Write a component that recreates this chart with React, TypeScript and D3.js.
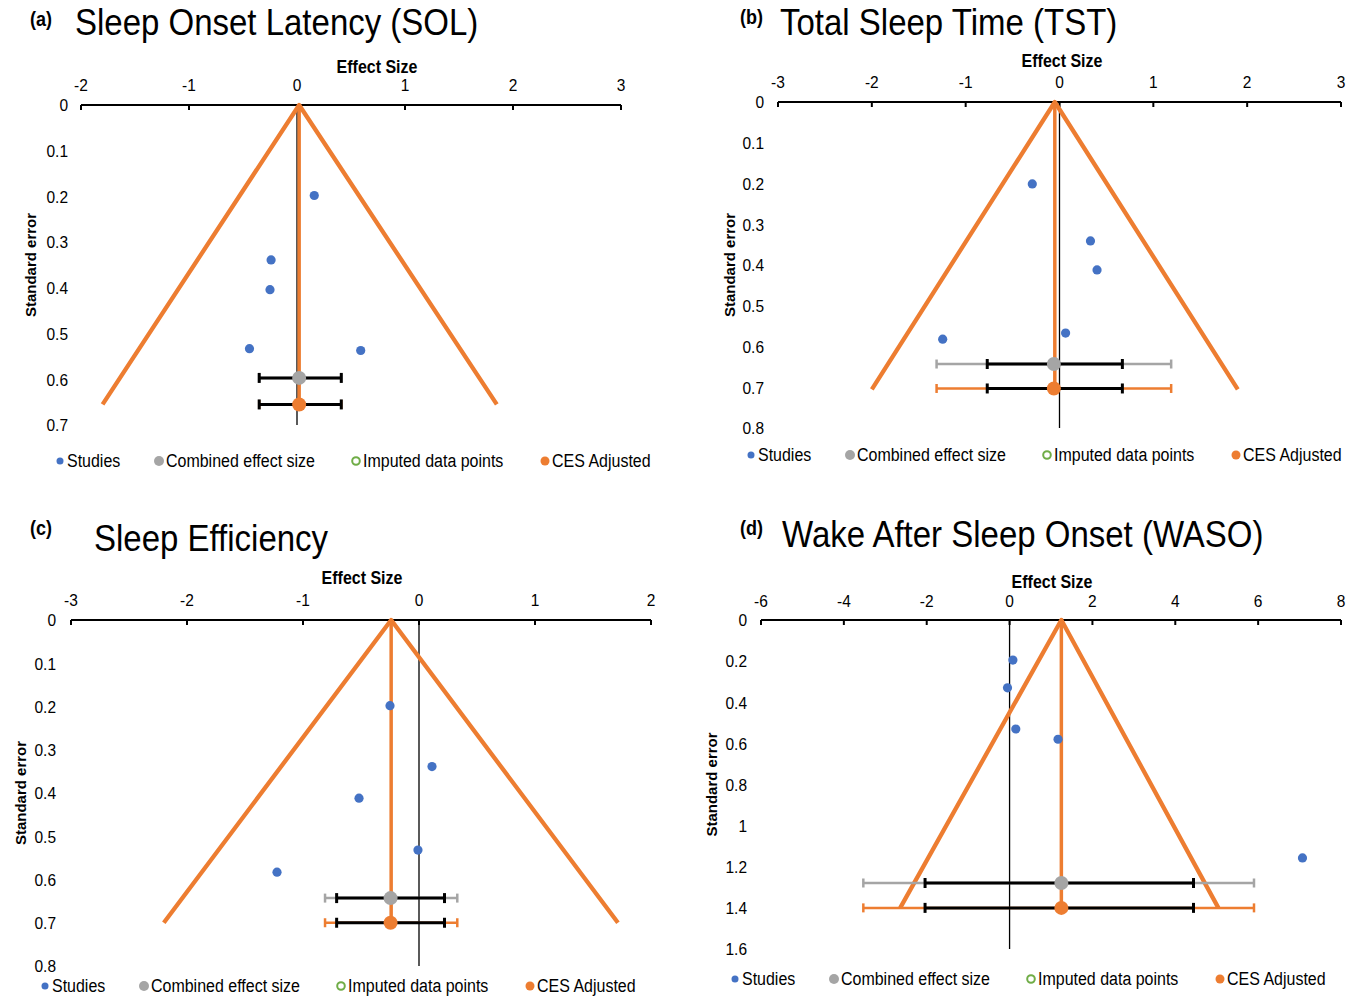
import React from 'react';
import * as d3 from 'd3';

const FONT = '"Liberation Sans", Arial, sans-serif';
const BLUE = '#4472C4';
const GREY = '#A5A5A5';
const ORANGE = '#ED7D31';
const GREEN = '#70AD47';

// legend
const legendLabels = ['Studies', 'Combined effect size', 'Imputed data points', 'CES Adjusted'];

// (a) Sleep Onset Latency
const solXTicks = [-2, -1, 0, 1, 2, 3];
const solYTicks = [0, 0.1, 0.2, 0.3, 0.4, 0.5, 0.6, 0.7];
const solStudyES = [0.16, -0.24, -0.25, -0.44, 0.59];
const solStudySE = [0.198, 0.339, 0.404, 0.533, 0.537];
const solPooledES = [0.02, 0.02]; // combined, adjusted
const solPooledSE = [0.597, 0.655];
const solCI = [-0.35, 0.41];
const solPI = [-0.35, 0.41];
const solFunnelES = [-1.8, 0.02, 1.85];
const solFunnelSE = [0.655, 0, 0.655];

// (b) Total Sleep Time
const tstXTicks = [-3, -2, -1, 0, 1, 2, 3];
const tstYTicks = [0, 0.1, 0.2, 0.3, 0.4, 0.5, 0.6, 0.7, 0.8];
const tstStudyES = [-0.29, 0.33, 0.4, 0.065, -1.245];
const tstStudySE = [0.201, 0.341, 0.412, 0.567, 0.582];
const tstPooledES = [-0.06, -0.06];
const tstPooledSE = [0.643, 0.703];
const tstCI = [-0.77, 0.67];
const tstPI = [-1.31, 1.19];
const tstFunnelES = [-2.0, -0.05, 1.9];
const tstFunnelSE = [0.705, 0, 0.705];

// (c) Sleep Efficiency
const seXTicks = [-3, -2, -1, 0, 1, 2];
const seYTicks = [0, 0.1, 0.2, 0.3, 0.4, 0.5, 0.6, 0.7, 0.8];
const seStudyES = [-0.25, 0.112, -0.517, -0.009, -1.224];
const seStudySE = [0.198, 0.339, 0.412, 0.532, 0.583];
const sePooledES = [-0.245, -0.245];
const sePooledSE = [0.643, 0.7];
const seCI = [-0.71, 0.22];
const sePI = [-0.81, 0.33];
const seFunnelES = [-2.2, -0.24, 1.715];
const seFunnelSE = [0.7, 0, 0.7];

// (d) Wake After Sleep Onset
const wasoXTicks = [-6, -4, -2, 0, 2, 4, 6, 8];
const wasoYTicks = [0, 0.2, 0.4, 0.6, 0.8, 1, 1.2, 1.4, 1.6];
const wasoStudyES = [0.08, -0.05, 0.15, 1.17, 7.07];
const wasoStudySE = [0.195, 0.33, 0.53, 0.58, 1.157];
const wasoPooledES = [1.25, 1.25];
const wasoPooledSE = [1.279, 1.4];
const wasoCI = [-2.04, 4.44];
const wasoPI = [-3.53, 5.9];
const wasoFunnelES = [-2.64, 1.25, 5.04];
const wasoFunnelSE = [1.4, 0, 1.4];

const STRETCH = 1.1;

function Txt({ x, y, size, bold, anchor, children }: any) {
  return (
    <text
      transform={`translate(${x},${y}) scale(1,${STRETCH})`}
      fontSize={size}
      fontWeight={bold ? 'bold' : 'normal'}
      textAnchor={anchor || 'start'}
      dominantBaseline="central"
      fontFamily={FONT}
      fill="#000"
    >
      {children}
    </text>
  );
}

function ErrBar({ x0, x1, y, color, width, cap }: any) {
  return (
    <g stroke={color} strokeWidth={width}>
      <line x1={x0} x2={x1} y1={y} y2={y} />
      <line x1={x0} x2={x0} y1={y - cap} y2={y + cap} />
      <line x1={x1} x2={x1} y1={y - cap} y2={y + cap} />
    </g>
  );
}

function Panel({ p }: any) {
  const x = d3.scaleLinear().domain([p.xTicks[0], p.xTicks[p.xTicks.length - 1]]).range([p.left, p.right]);
  const y = d3.scaleLinear().domain([p.yTicks[0], p.yTicks[p.yTicks.length - 1]]).range([p.top, p.bottom]);
  const funnel = d3.line<number>().x((d) => x(d)).y((d, i) => y(p.funnelSE[i]));
  const legendOffsets = [0, 99, 296, 485];

  return (
    <g>
      <Txt x={p.letterX} y={p.letterY} size={18} bold>{p.letter}</Txt>
      <Txt x={p.titleX} y={p.titleY} size={33}>{p.title}</Txt>
      <Txt x={p.effectX} y={p.effectY} size={16} bold anchor="middle">Effect Size</Txt>
      {p.xTicks.map((t: number) => (
        <Txt key={'xt' + t} x={x(t)} y={p.tickY} size={15.5} anchor="middle">{String(t)}</Txt>
      ))}
      {p.yTicks.map((t: number) => (
        <Txt key={'yt' + t} x={p.yLabelRight} y={y(t)} size={15.5} anchor="end">{String(t)}</Txt>
      ))}
      <text
        transform={`translate(${p.seLabelX},${(p.top + p.bottom) / 2 + p.seLabelDy}) rotate(-90)`}
        fontSize={15}
        fontWeight="bold"
        textAnchor="middle"
        dominantBaseline="central"
        fontFamily={FONT}
      >
        Standard error
      </text>

      {/* x axis along the top */}
      <line x1={p.left} x2={p.right} y1={p.top} y2={p.top} stroke="#000" strokeWidth={2} />
      {p.xTicks.map((t: number) => (
        <line key={'tk' + t} x1={x(t)} x2={x(t)} y1={p.top} y2={p.top + 5} stroke="#000" strokeWidth={2} />
      ))}

      {/* zero line */}
      <line x1={x(0)} x2={x(0)} y1={p.top} y2={p.bottom} stroke="#000" strokeWidth={1.3} />

      {/* funnel */}
      <path d={funnel(p.funnelES) || ''} fill="none" stroke={ORANGE} strokeWidth={4.3} strokeLinejoin="round" />
      <line x1={x(p.funnelES[1])} x2={x(p.funnelES[1])} y1={y(0)} y2={y(p.pooledSE[1])} stroke={ORANGE} strokeWidth={3.5} />

      {/* pooled estimates with intervals */}
      <ErrBar x0={x(p.pi[0])} x1={x(p.pi[1])} y={y(p.pooledSE[0])} color={GREY} width={2.5} cap={4.5} />
      <ErrBar x0={x(p.pi[0])} x1={x(p.pi[1])} y={y(p.pooledSE[1])} color={ORANGE} width={2.5} cap={4.5} />
      <ErrBar x0={x(p.ci[0])} x1={x(p.ci[1])} y={y(p.pooledSE[0])} color="#000" width={3} cap={5} />
      <ErrBar x0={x(p.ci[0])} x1={x(p.ci[1])} y={y(p.pooledSE[1])} color="#000" width={3} cap={5} />

      {p.studyES.map((es: number, i: number) => (
        <circle key={'s' + i} cx={x(es)} cy={y(p.studySE[i])} r={4.6} fill={BLUE} />
      ))}
      <circle cx={x(p.pooledES[0])} cy={y(p.pooledSE[0])} r={7} fill={GREY} />
      <circle cx={x(p.pooledES[1])} cy={y(p.pooledSE[1])} r={7} fill={ORANGE} />

      {/* legend */}
      {legendLabels.map((lab, i) => {
        const lx = p.legendX + legendOffsets[i];
        return (
          <g key={'lg' + i}>
            {i === 0 && <circle cx={lx} cy={p.legendY} r={3.5} fill={BLUE} />}
            {i === 1 && <circle cx={lx} cy={p.legendY} r={5} fill={GREY} />}
            {i === 2 && <circle cx={lx} cy={p.legendY} r={3.8} fill="#fff" stroke={GREEN} strokeWidth={2} />}
            {i === 3 && <circle cx={lx} cy={p.legendY} r={4.5} fill={ORANGE} />}
            <Txt x={lx + 7} y={p.legendY} size={16}>{lab}</Txt>
          </g>
        );
      })}
    </g>
  );
}

const panels = [
  {
    letter: '(a)', title: 'Sleep Onset Latency (SOL)',
    xTicks: solXTicks, yTicks: solYTicks, studyES: solStudyES, studySE: solStudySE,
    pooledES: solPooledES, pooledSE: solPooledSE, ci: solCI, pi: solPI,
    funnelES: solFunnelES, funnelSE: solFunnelSE,
    left: 81, right: 621, top: 105, bottom: 425,
    letterX: 30, letterY: 19, titleX: 75, titleY: 22, effectX: 377, effectY: 67, tickY: 85,
    yLabelRight: 68, seLabelX: 30, seLabelDy: 0, legendX: 60, legendY: 461,
  },
  {
    letter: '(b)', title: 'Total Sleep Time (TST)',
    xTicks: tstXTicks, yTicks: tstYTicks, studyES: tstStudyES, studySE: tstStudySE,
    pooledES: tstPooledES, pooledSE: tstPooledSE, ci: tstCI, pi: tstPI,
    funnelES: tstFunnelES, funnelSE: tstFunnelSE,
    left: 778, right: 1341, top: 102, bottom: 428,
    letterX: 740, letterY: 17, titleX: 780, titleY: 22, effectX: 1062, effectY: 61, tickY: 82,
    yLabelRight: 764, seLabelX: 729, seLabelDy: 0, legendX: 751, legendY: 455,
  },
  {
    letter: '(c)', title: 'Sleep Efficiency',
    xTicks: seXTicks, yTicks: seYTicks, studyES: seStudyES, studySE: seStudySE,
    pooledES: sePooledES, pooledSE: sePooledSE, ci: seCI, pi: sePI,
    funnelES: seFunnelES, funnelSE: seFunnelSE,
    left: 71, right: 651, top: 620, bottom: 966,
    letterX: 30, letterY: 528, titleX: 94, titleY: 538, effectX: 362, effectY: 578, tickY: 600,
    yLabelRight: 56, seLabelX: 20, seLabelDy: 0, legendX: 45, legendY: 986,
  },
  {
    letter: '(d)', title: 'Wake After Sleep Onset (WASO)',
    xTicks: wasoXTicks, yTicks: wasoYTicks, studyES: wasoStudyES, studySE: wasoStudySE,
    pooledES: wasoPooledES, pooledSE: wasoPooledSE, ci: wasoCI, pi: wasoPI,
    funnelES: wasoFunnelES, funnelSE: wasoFunnelSE,
    left: 761, right: 1341, top: 620, bottom: 949,
    letterX: 740, letterY: 528, titleX: 782, titleY: 534, effectX: 1052, effectY: 582, tickY: 601,
    yLabelRight: 747, seLabelX: 711, seLabelDy: 0, legendX: 735, legendY: 979,
  },
];

export default function App() {
  return (
    <svg
      width={1358}
      height={997}
      style={{ position: 'absolute', left: 0, top: 0, background: '#fff' }}
    >
      {panels.map((p, i) => (
        <Panel key={i} p={p} />
      ))}
    </svg>
  );
}
